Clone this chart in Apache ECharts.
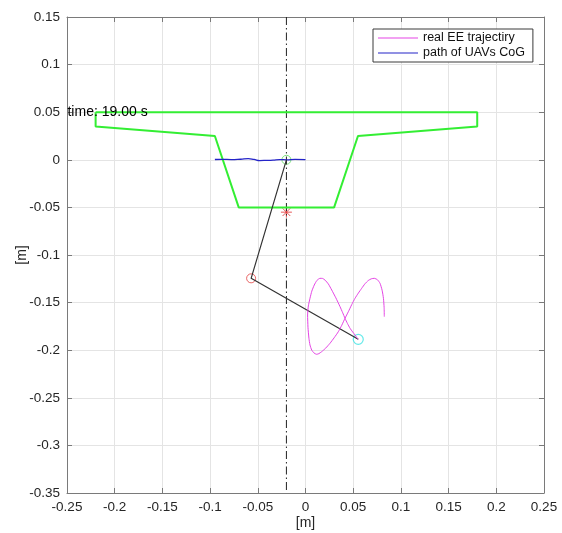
<!DOCTYPE html>
<html>
<head>
<meta charset="utf-8">
<script src="https://cdn.jsdelivr.net/npm/echarts@6/dist/echarts.min.js"></script>
<style>
  html, body { margin: 0; padding: 0; background: #fff; }
  #chart { width: 562px; height: 533px; }
</style>
</head>
<body>
<div id="chart"></div>
<script>
// Axis ranges and tick labels
const X_MIN = -0.25, X_MAX = 0.25, X_STEP = 0.05;
const Y_MIN = -0.35, Y_MAX = 0.15, Y_STEP = 0.05;
const xTickLabels = ['-0.25', '-0.2', '-0.15', '-0.1', '-0.05', '0', '0.05', '0.1', '0.15', '0.2', '0.25'];
const yTickLabels = ['-0.35', '-0.3', '-0.25', '-0.2', '-0.15', '-0.1', '-0.05', '0', '0.05', '0.1', '0.15'];

// Workspace outline (green polygon), symmetric about x = -0.02
const workspaceOutline = [
  [-0.22, 0.05], [-0.22, 0.035], [-0.095, 0.025], [-0.07, -0.05],
  [0.03, -0.05], [0.055, 0.025], [0.18, 0.035], [0.18, 0.05], [-0.22, 0.05]
];

// Vertical reference line x = -0.02
const refLineX = -0.02;

// Path of the UAV centre of gravity
const uavPath = [
  [-0.095, 0.0003], [-0.087, 0.0005], [-0.078, 0.0002], [-0.068, 0.0006],
  [-0.060, 0.0012], [-0.054, 0.0004], [-0.048, -0.0008], [-0.041, -0.0006],
  [-0.034, -0.0003], [-0.027, 0.0002], [-0.020, 0.0000], [-0.011, 0.0004],
  [0.000, 0.0002]
];

// Real end-effector trajectory
const eeTrajectory = [
  [0.0826, -0.1648], [0.0824, -0.1550], [0.0817, -0.1455], [0.0803, -0.1370],
  [0.0781, -0.1297], [0.0754, -0.1260], [0.0721, -0.1245], [0.0690, -0.1250],
  [0.0658, -0.1268], [0.0623, -0.1303], [0.0589, -0.1350], [0.0554, -0.1400],
  [0.0519, -0.1455], [0.0484, -0.1522], [0.0449, -0.1596], [0.0414, -0.1665],
  [0.0380, -0.1738], [0.0344, -0.1806], [0.0300, -0.1870], [0.0257, -0.1927],
  [0.0212, -0.1978], [0.0169, -0.2016], [0.0140, -0.2036], [0.0117, -0.2043],
  [0.0090, -0.2030], [0.0065, -0.1998], [0.0047, -0.1945], [0.0036, -0.1875],
  [0.0026, -0.1760], [0.0022, -0.1630], [0.0030, -0.1535], [0.0047, -0.1455],
  [0.0066, -0.1380], [0.0092, -0.1315], [0.0120, -0.1267], [0.0152, -0.1245],
  [0.0178, -0.1246], [0.0204, -0.1263], [0.0240, -0.1305], [0.0275, -0.1368],
  [0.0318, -0.1450], [0.0362, -0.1543], [0.0390, -0.1607], [0.0414, -0.1665],
  [0.0440, -0.1720], [0.0467, -0.1770], [0.0494, -0.1808], [0.0519, -0.1840],
  [0.0536, -0.1864], [0.0553, -0.1886]
];

// Manipulator: UAV CoG, elbow joint, end effector
const uavCoG = [-0.02, 0.0];
const elbowJoint = [-0.057, -0.1245];
const endEffector = [0.0553, -0.1886];
const targetPoint = [-0.02, -0.055];

const timeLabel = { x: -0.2495, y: 0.05, text: 'time: 19.00 s' };

const FONT = '"Liberation Sans", Arial, Helvetica, sans-serif';
const AXIS_COLOR = '#7a7a7a';
const TEXT_COLOR = '#262626';
const GRID_COLOR = '#e4e4e4';
const LEGEND_LINE = 'path://M0,0L40,0L40,1.2L0,1.2Z';

function xFmt(v) { return xTickLabels[Math.round((v - X_MIN) / X_STEP)] ?? ''; }
function yFmt(v) { return yTickLabels[Math.round((v - Y_MIN) / Y_STEP)] ?? ''; }

const baseAxis = {
  type: 'value',
  nameMoveOverlap: false,
  axisLine: { show: true, onZero: false, lineStyle: { color: AXIS_COLOR, width: 1 } },
  axisTick: { show: true, inside: true, length: 5, lineStyle: { color: AXIS_COLOR } },
  splitLine: { show: false }
};

const chart = echarts.init(document.getElementById('chart'), null, { renderer: 'canvas' });

chart.setOption({
  animation: false,
  backgroundColor: '#ffffff',
  textStyle: { fontFamily: FONT },
  grid: { left: 67, top: 17, right: 18, bottom: 40, containLabel: false, outerBoundsMode: 'none' },
  legend: {
    orient: 'vertical',
    left: 373, top: 29,
    data: [
      { name: 'real EE trajectiry', icon: LEGEND_LINE },
      { name: 'path of UAVs CoG', icon: LEGEND_LINE }
    ],
    symbolKeepAspect: true,
    itemWidth: 40, itemHeight: 14, itemGap: 1,
    padding: [2, 8, 2, 5],
    backgroundColor: '#ffffff',
    borderColor: '#3a3a3a', borderWidth: 1,
    textStyle: { fontFamily: FONT, fontSize: 12.5, color: '#111', lineHeight: 14 }
  },
  xAxis: [
    Object.assign({}, baseAxis, {
      min: X_MIN, max: X_MAX, interval: X_STEP, position: 'bottom',
      name: '[m]', nameLocation: 'middle', nameGap: 23,
      nameTextStyle: { fontFamily: FONT, fontSize: 14, color: TEXT_COLOR },
      axisLabel: { show: true, formatter: xFmt, margin: 7, fontFamily: FONT, fontSize: 13.5, color: TEXT_COLOR, showMinLabel: true, showMaxLabel: true },
      splitLine: { show: true, lineStyle: { color: GRID_COLOR, width: 1 } }
    }),
    Object.assign({}, baseAxis, {
      min: X_MIN, max: X_MAX, interval: X_STEP, position: 'top',
      axisLabel: { show: false }
    })
  ],
  yAxis: [
    Object.assign({}, baseAxis, {
      min: Y_MIN, max: Y_MAX, interval: Y_STEP, position: 'left',
      name: '[m]', nameLocation: 'middle', nameGap: 38, nameRotate: 90,
      nameTextStyle: { fontFamily: FONT, fontSize: 14, color: TEXT_COLOR },
      axisLabel: { show: true, formatter: yFmt, margin: 7, fontFamily: FONT, fontSize: 13.5, color: TEXT_COLOR, showMinLabel: true, showMaxLabel: true },
      splitLine: { show: true, lineStyle: { color: GRID_COLOR, width: 1 } }
    }),
    Object.assign({}, baseAxis, {
      min: Y_MIN, max: Y_MAX, interval: Y_STEP, position: 'right',
      axisLabel: { show: false }
    })
  ],
  series: [
    {
      name: 'reference line', type: 'line', symbol: 'none', silent: true,
      data: [[refLineX, Y_MAX], [refLineX, Y_MIN]],
      lineStyle: { color: '#222', width: 1, type: [8, 3, 1.5, 3] }
    },
    {
      name: 'workspace', type: 'line', symbol: 'none', silent: true,
      data: workspaceOutline,
      lineStyle: { color: '#33ee33', width: 2 }
    },
    {
      name: 'path of UAVs CoG', type: 'line', symbol: 'none', smooth: true,
      data: uavPath,
      itemStyle: { color: '#2424c8' },
      lineStyle: { color: '#2424c8', width: 1.3 }
    },
    {
      name: 'arm', type: 'line', symbol: 'none', silent: true,
      data: [uavCoG, elbowJoint, endEffector],
      lineStyle: { color: '#333', width: 1.2 }
    },
    {
      name: 'real EE trajectiry', type: 'line', symbol: 'none', smooth: 0.2,
      data: eeTrajectory,
      itemStyle: { color: '#e544e5' },
      lineStyle: { color: '#e544e5', width: 1 }
    },
    {
      name: 'UAV marker', type: 'scatter', silent: true,
      data: [uavCoG], symbol: 'circle', symbolSize: 9,
      itemStyle: { color: 'rgba(0,0,0,0)', borderColor: '#5fdc5f', borderWidth: 1 }
    },
    {
      name: 'elbow marker', type: 'scatter', silent: true,
      data: [elbowJoint], symbol: 'circle', symbolSize: 9,
      itemStyle: { color: 'rgba(0,0,0,0)', borderColor: '#e24040', borderWidth: 1 }
    },
    {
      name: 'EE marker', type: 'scatter', silent: true,
      data: [endEffector], symbol: 'circle', symbolSize: 10,
      itemStyle: { color: 'rgba(0,0,0,0)', borderColor: '#3de3e3', borderWidth: 1.2 }
    },
    {
      name: 'target marker', type: 'scatter', silent: true,
      data: [targetPoint],
      symbol: 'path://M0,-10L0,10M-10,0L10,0M-7,-7L7,7M-7,7L7,-7',
      symbolSize: 11,
      itemStyle: { color: 'rgba(0,0,0,0)', borderColor: '#e03030', borderWidth: 1 }
    },
    {
      name: 'time label', type: 'scatter', silent: true, z: 10,
      data: [[timeLabel.x, timeLabel.y]], symbolSize: 0,
      label: {
        show: true, position: 'right', distance: 0,
        formatter: timeLabel.text,
        fontFamily: FONT, fontSize: 14, color: '#000', opacity: 1
      }
    }
  ]
});
</script>
</body>
</html>
